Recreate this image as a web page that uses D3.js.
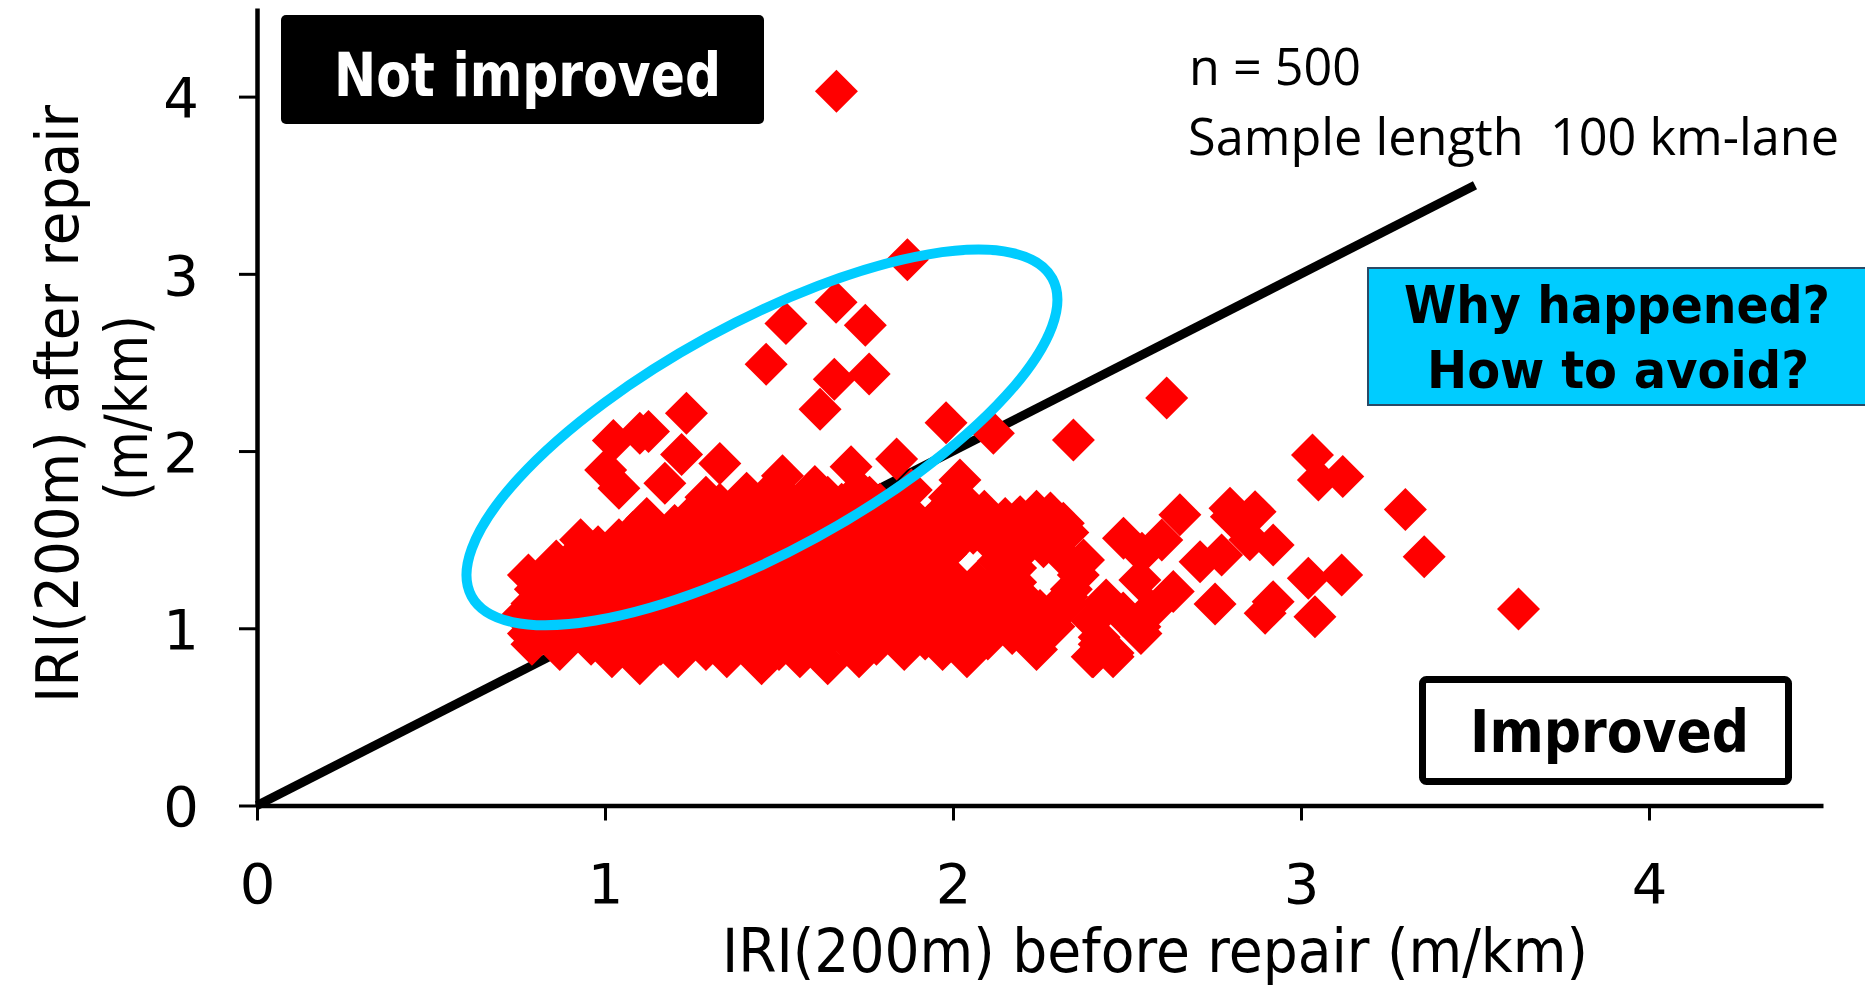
<!DOCTYPE html>
<html>
<head>
<meta charset="utf-8">
<script src="https://cdn.jsdelivr.net/npm/d3@7"></script>
<style>
  html, body { margin: 0; padding: 0; background: #fff; }
  svg { display: block; }
</style>
</head>
<body>
<svg id="chart" width="1865" height="985"></svg>
<script>
// IRI (m/km) measured over 200 m sections, before vs. after repair.
const xTicks = [0, 1, 2, 3, 4];
const yTicks = [0, 1, 2, 3, 4];
const axisMax = 4.5;

// Sections that stand apart from the main cloud: [before, after]
const upperPoints = [
  [1.665, 4.03], [1.869, 3.08], [1.664, 2.84], [1.52, 2.72], [1.748, 2.71],
  [1.463, 2.49], [1.659, 2.405], [1.759, 2.435], [1.618, 2.236], [1.98, 2.16],
  [2.116, 2.10], [2.346, 2.063], [2.614, 2.30], [1.234, 2.213], [1.10, 2.10],
  [1.125, 2.11], [1.024, 2.06], [1.002, 1.893], [1.04, 1.79], [1.22, 1.98],
  [1.33, 1.93], [1.172, 1.818], [1.51, 1.86], [1.707, 1.912], [1.838, 1.955],
  [1.603, 1.80], [1.407, 1.762], [2.02, 1.837]
];

const rightPoints = [
  [3.033, 1.978], [3.12, 1.856], [3.05, 1.837], [3.30, 1.67], [3.354, 1.404],
  [3.625, 1.109], [3.021, 1.282], [3.117, 1.30], [3.04, 1.065], [2.92, 1.47],
  [2.92, 1.15], [2.897, 1.085], [2.853, 1.50], [2.80, 1.63], [2.796, 1.677],
  [2.868, 1.658], [2.652, 1.64], [2.49, 1.508], [2.60, 1.498], [2.543, 1.423],
  [2.71, 1.376], [2.772, 1.414], [2.753, 1.137], [2.633, 1.207], [2.566, 1.103],
  [2.537, 1.273], [2.44, 1.16], [2.489, 1.086], [2.537, 1.009], [2.403, 0.84],
  [2.46, 0.86], [2.42, 0.95], [2.236, 0.924], [2.04, 0.86], [2.135, 1.103],
  [2.25, 1.085], [2.327, 1.178], [2.375, 1.385], [2.28, 1.65], [2.193, 1.63],
  [2.317, 1.593], [2.106, 1.61], [2.058, 1.536]
];

// Main cloud, listed by IRI-after level: [after, [before values...]]
const cloudRows = [
  [0.80, [1.10, 1.45, 1.64]],
  [0.84, [1.02, 1.21, 1.35, 1.56, 1.73, 2.04, 2.40, 2.46]],
  [0.88, [0.87, 1.29, 1.50, 1.86, 1.97, 2.24]],
  [0.91, [0.79, 0.96, 1.09, 1.16, 1.40, 1.62, 1.78, 2.42]],
  [0.94, [0.88, 1.03, 1.25, 1.33, 1.47, 1.69, 1.92, 2.10]],
  [0.97, [0.78, 1.14, 1.21, 1.55, 1.83, 2.00, 2.17, 2.54]],
  [1.01, [0.88, 0.99, 1.08, 1.28, 1.39, 1.50, 1.62, 1.74, 1.89, 2.06, 2.29]],
  [1.04, [0.80, 0.94, 1.17, 1.34, 1.45, 1.57, 1.68, 1.80, 1.95, 2.13, 2.40]],
  [1.07, [0.76, 0.90, 1.02, 1.24, 1.52, 1.63, 1.86, 2.02, 2.21, 2.49]],
  [1.10, [0.84, 0.97, 1.11, 1.20, 1.31, 1.42, 1.58, 1.71, 1.92, 2.09, 2.25, 2.57]],
  [1.14, [0.79, 0.91, 1.04, 1.15, 1.27, 1.36, 1.49, 1.64, 1.77, 1.87, 1.99, 2.14, 2.33, 2.44]],
  [1.18, [0.85, 0.98, 1.09, 1.22, 1.33, 1.43, 1.55, 1.68, 1.81, 1.94, 2.05, 2.20]],
  [1.22, [0.80, 0.93, 1.03, 1.14, 1.27, 1.39, 1.51, 1.61, 1.73, 1.86, 2.00, 2.12, 2.34]],
  [1.26, [0.88, 0.99, 1.10, 1.21, 1.34, 1.46, 1.58, 1.70, 1.80, 1.91, 2.07, 2.18]],
  [1.30, [0.78, 0.94, 1.05, 1.16, 1.29, 1.40, 1.53, 1.64, 1.76, 1.88, 1.99, 2.14, 2.36]],
  [1.34, [0.90, 1.01, 1.12, 1.24, 1.35, 1.47, 1.59, 1.71, 1.83, 1.95, 2.18]],
  [1.38, [0.86, 0.97, 1.08, 1.19, 1.31, 1.42, 1.54, 1.66, 1.79, 1.91, 2.13]],
  [1.42, [0.92, 1.03, 1.15, 1.27, 1.38, 1.50, 1.61, 1.74, 1.87, 1.98, 2.19, 2.31]],
  [1.46, [0.98, 1.10, 1.22, 1.34, 1.45, 1.57, 1.69, 1.82, 1.94, 2.12, 2.26]],
  [1.50, [0.93, 1.04, 1.17, 1.29, 1.41, 1.53, 1.65, 1.77, 1.90, 2.02, 2.22]],
  [1.54, [1.08, 1.24, 1.37, 1.49, 1.61, 1.72, 1.85, 1.98, 2.16, 2.33]],
  [1.58, [1.13, 1.20, 1.33, 1.45, 1.56, 1.68, 1.80, 1.93, 2.08, 2.24]],
  [1.62, [1.12, 1.29, 1.41, 1.52, 1.64, 1.76, 1.89, 2.01, 2.15]],
  [1.66, [1.26, 1.37, 1.48, 1.60, 1.72, 1.84, 1.97, 2.09, 2.24]],
  [1.70, [1.33, 1.45, 1.56, 1.68, 1.79, 2.04]],
  [1.74, [1.29, 1.41, 1.52, 1.64, 1.76, 1.99]],
  [1.78, [1.48, 1.60, 1.73, 1.88]]
];

const noteLines = ["n = 500", "Sample length  100 km-lane"];
const questionLines = ["Why happened?", "How to avoid?"];

const cloudPoints = cloudRows.flatMap(([after, befores]) => befores.map(b => [b, after]));
const allPoints = cloudPoints.concat(upperPoints, rightPoints);

const svg = d3.select("#chart");

const x = d3.scaleLinear().domain([0, axisMax]).range([257, 1823]);
const y = d3.scaleLinear().domain([0, axisMax]).range([805.5, 8]);

const tickFont = "'DejaVu Sans', Verdana, sans-serif";

// Equality line (after = before)
svg.append("path")
  .datum([[0, 0], [3.5, 3.5]])
  .attr("d", d3.line().x(d => x(d[0])).y(d => y(d[1])))
  .attr("stroke", "#000")
  .attr("stroke-width", 9)
  .attr("fill", "none");

// Diamond markers
const diamond = d3.symbol().type(d3.symbolSquare).size(924);
svg.append("g")
  .selectAll("path")
  .data(allPoints)
  .join("path")
  .attr("d", diamond)
  .attr("transform", d => `translate(${x(d[0])},${y(d[1])}) rotate(45)`)
  .attr("fill", "#ff0000");

// Highlight ring around sections that got rougher
const ringCenter = [1.451, 2.077];
svg.append("ellipse")
  .attr("cx", 0).attr("cy", 0)
  .attr("rx", 331).attr("ry", 114)
  .attr("transform", `translate(${x(ringCenter[0])},${y(ringCenter[1])}) rotate(-28.7)`)
  .attr("fill", "none")
  .attr("stroke", "#00ccff")
  .attr("stroke-width", 10);

// Axes
const xAxis = svg.append("g")
  .attr("transform", `translate(0,${y(0)})`)
  .call(d3.axisBottom(x).tickValues(xTicks).tickFormat(d3.format("d")).tickSize(15).tickSizeOuter(0));
const yAxis = svg.append("g")
  .attr("transform", `translate(${x(0)},0)`)
  .call(d3.axisLeft(y).tickValues(yTicks).tickFormat(d3.format("d")).tickSize(18).tickSizeOuter(0));

[xAxis, yAxis].forEach(g => {
  g.select(".domain").attr("stroke", "#000").attr("stroke-width", 4.5);
  g.selectAll(".tick line").attr("stroke", "#000").attr("stroke-width", 3);
  g.selectAll(".tick text")
    .attr("fill", "#000")
    .style("font-family", tickFont)
    .style("font-size", "56px");
});
xAxis.selectAll(".tick text").attr("y", 97.5).attr("dy", 0);
yAxis.selectAll(".tick text").attr("x", -58).attr("dy", "0.36em");

// Axis titles
svg.append("text")
  .attr("x", 722).attr("y", 972)
  .attr("textLength", 866).attr("lengthAdjust", "spacingAndGlyphs")
  .style("font-family", tickFont).style("font-size", "60px")
  .text("IRI(200m) before repair (m/km)");

const yTitle = svg.append("g").attr("transform", "translate(0,404) rotate(-90)");
yTitle.append("text")
  .attr("x", 0).attr("y", 78)
  .attr("text-anchor", "middle")
  .attr("textLength", 598).attr("lengthAdjust", "spacingAndGlyphs")
  .style("font-family", tickFont).style("font-size", "58px")
  .text("IRI(200m) after repair");
yTitle.append("text")
  .attr("x", -4).attr("y", 147)
  .attr("text-anchor", "middle")
  .attr("textLength", 186).attr("lengthAdjust", "spacingAndGlyphs")
  .style("font-family", tickFont).style("font-size", "58px")
  .text("(m/km)");

// Sample note
const noteFont = "'Open Sans', 'Noto Sans', sans-serif";
svg.append("text")
  .attr("x", 1189).attr("y", 85)
  .attr("textLength", 172).attr("lengthAdjust", "spacingAndGlyphs")
  .style("font-family", noteFont).style("font-size", "52px")
  .text(noteLines[0]);
svg.append("text")
  .attr("x", 1188).attr("y", 155)
  .attr("textLength", 651).attr("lengthAdjust", "spacingAndGlyphs")
  .style("font-family", noteFont).style("font-size", "52px")
  .style("white-space", "pre")
  .attr("xml:space", "preserve")
  .text(noteLines[1]);

const boldFont = "'DejaVu Sans', Verdana, sans-serif";

// "Not improved" badge
svg.append("rect")
  .attr("x", 281).attr("y", 15).attr("width", 483).attr("height", 109)
  .attr("rx", 5).attr("fill", "#000");
svg.append("text")
  .attr("x", 334).attr("y", 96)
  .attr("textLength", 387).attr("lengthAdjust", "spacingAndGlyphs")
  .style("font-family", boldFont).style("font-weight", "bold").style("font-size", "60px")
  .attr("fill", "#fff")
  .text("Not improved");

// Question box
svg.append("rect")
  .attr("x", 1368).attr("y", 268).attr("width", 500).attr("height", 137)
  .attr("fill", "#00ccff").attr("stroke", "#2a4a66").attr("stroke-width", 2);
svg.append("text")
  .attr("x", 1404).attr("y", 323)
  .attr("textLength", 426).attr("lengthAdjust", "spacingAndGlyphs")
  .style("font-family", boldFont).style("font-weight", "bold").style("font-size", "52px")
  .text(questionLines[0]);
svg.append("text")
  .attr("x", 1427).attr("y", 388)
  .attr("textLength", 382).attr("lengthAdjust", "spacingAndGlyphs")
  .style("font-family", boldFont).style("font-weight", "bold").style("font-size", "52px")
  .text(questionLines[1]);

// "Improved" badge
svg.append("rect")
  .attr("x", 1422.5).attr("y", 679.5).attr("width", 366).attr("height", 102)
  .attr("rx", 4).attr("fill", "#fff").attr("stroke", "#000").attr("stroke-width", 7);
svg.append("text")
  .attr("x", 1470).attr("y", 752)
  .attr("textLength", 279).attr("lengthAdjust", "spacingAndGlyphs")
  .style("font-family", boldFont).style("font-weight", "bold").style("font-size", "58px")
  .text("Improved");
</script>
</body>
</html>
